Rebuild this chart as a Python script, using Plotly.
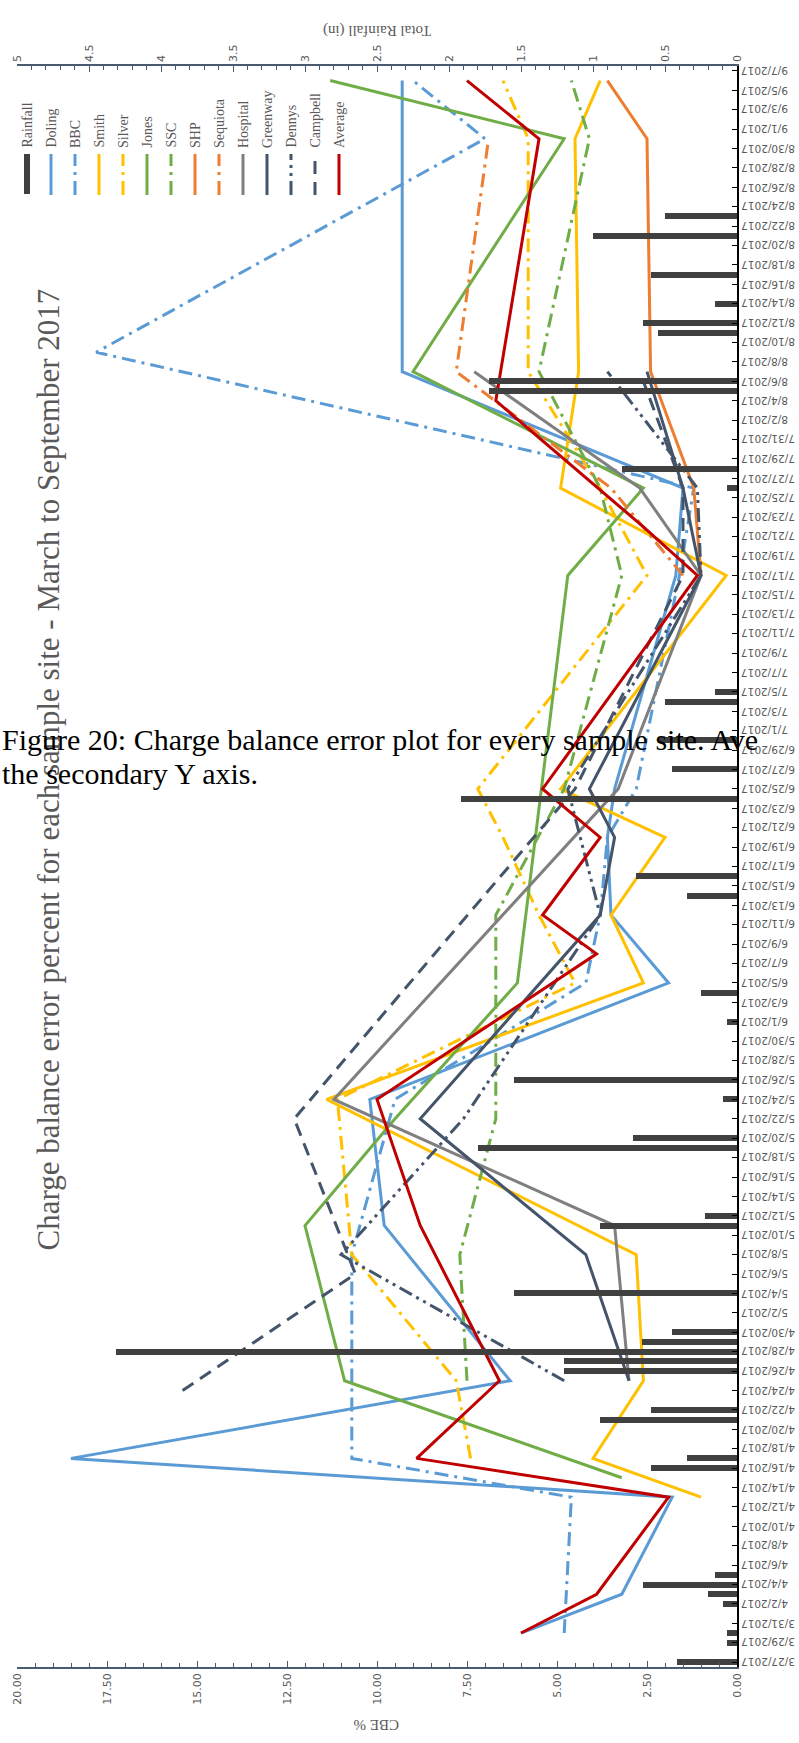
import datetime as dt
import plotly.graph_objects as go

# ---- data -------------------------------------------------------------
rain_dates = ["2017-03-27", "2017-03-29", "2017-03-30", "2017-04-02", "2017-04-03",
              "2017-04-04", "2017-04-05", "2017-04-16", "2017-04-17", "2017-04-21",
              "2017-04-22", "2017-04-26", "2017-04-27", "2017-04-28", "2017-04-29",
              "2017-04-30", "2017-05-04", "2017-05-11", "2017-05-12", "2017-05-19",
              "2017-05-20", "2017-05-24", "2017-05-26", "2017-06-01", "2017-06-04",
              "2017-06-14", "2017-06-16", "2017-06-24", "2017-06-27", "2017-06-30",
              "2017-07-04", "2017-07-05", "2017-07-26", "2017-07-28", "2017-08-05",
              "2017-08-06", "2017-08-11", "2017-08-12", "2017-08-14", "2017-08-17",
              "2017-08-21", "2017-08-23"]
rain_in = [0.42, 0.07, 0.07, 0.10, 0.20,
           0.65, 0.15, 0.60, 0.35, 0.95,
           0.60, 1.20, 1.20, 4.31, 0.66,
           0.45, 1.55, 0.95, 0.22, 1.80,
           0.72, 0.10, 1.55, 0.07, 0.25,
           0.35, 0.70, 1.92, 0.45, 0.55,
           0.50, 0.15, 0.07, 0.80, 1.72,
           1.72, 0.55, 0.65, 0.15, 0.60,
           1.00, 0.50]

doling_d = ["2017-03-30", "2017-04-03", "2017-04-13", "2017-04-17", "2017-04-25", "2017-05-11",
            "2017-05-24", "2017-06-05", "2017-06-12", "2017-06-20", "2017-06-25", "2017-07-17",
            "2017-07-26", "2017-08-07", "2017-08-31", "2017-09-06"]
doling = [6.0, 3.2, 1.8, 18.5, 6.3, 9.8, 10.2, 1.9, 3.5, 3.6, 3.4, 1.7, 1.5, 9.3, 9.3, 9.3]

bbc_d = ["2017-03-30", "2017-04-13", "2017-04-17", "2017-05-08", "2017-05-24", "2017-06-05",
         "2017-06-12", "2017-06-20", "2017-06-25", "2017-07-17", "2017-07-26", "2017-08-09",
         "2017-08-31", "2017-09-06"]
bbc = [4.8, 4.6, 10.7, 10.7, 9.5, 4.2, 3.8, 3.6, 2.8, 1.6, 1.2, 17.8, 7.0, 9.0]

smith_d = ["2017-04-13", "2017-04-17", "2017-04-25", "2017-05-08", "2017-05-24", "2017-06-05",
           "2017-06-12", "2017-06-20", "2017-06-25", "2017-07-17", "2017-07-26", "2017-08-07",
           "2017-08-31", "2017-09-06"]
smith = [1.0, 4.0, 2.6, 2.8, 11.4, 2.6, 3.5, 2.0, 4.9, 0.3, 4.9, 4.4, 4.5, 3.8]

silver_d = ["2017-04-17", "2017-04-25", "2017-05-08", "2017-05-24", "2017-06-05", "2017-06-12",
            "2017-06-20", "2017-06-25", "2017-07-17", "2017-07-26", "2017-08-07", "2017-08-31",
            "2017-09-06"]
silver = [7.4, 7.8, 10.7, 11.1, 4.5, 5.5, 6.5, 7.2, 2.5, 3.8, 5.8, 5.8, 6.5]

jones_d = ["2017-04-15", "2017-04-25", "2017-05-11", "2017-05-22", "2017-06-05", "2017-07-17",
           "2017-07-26", "2017-08-07", "2017-08-31", "2017-09-06"]
jones = [3.2, 10.9, 12.0, 9.5, 6.1, 4.7, 2.6, 9.0, 4.8, 11.3]

ssc_d = ["2017-04-25", "2017-05-08", "2017-05-22", "2017-06-12", "2017-06-25", "2017-07-17",
         "2017-07-26", "2017-08-07", "2017-08-31", "2017-09-06"]
ssc = [7.5, 7.7, 6.7, 6.7, 4.8, 3.2, 3.8, 5.5, 4.1, 4.6]

shp_d = ["2017-07-17", "2017-07-26", "2017-08-07", "2017-08-31", "2017-09-06"]
shp = [1.0, 1.2, 2.4, 2.5, 3.6]

sequiota_d = ["2017-07-17", "2017-07-26", "2017-08-07", "2017-08-31"]
sequiota = [1.5, 3.5, 7.8, 6.9]

hospital_d = ["2017-04-25", "2017-05-11", "2017-05-24", "2017-06-25", "2017-07-17",
              "2017-07-26", "2017-08-07"]
hospital = [3.0, 3.4, 11.2, 3.3, 1.0, 2.7, 7.3]

greenway_d = ["2017-04-25", "2017-05-08", "2017-05-22", "2017-06-12", "2017-06-20",
              "2017-06-25", "2017-07-17", "2017-07-26", "2017-08-07"]
greenway = [3.0, 4.2, 8.8, 3.8, 3.4, 4.1, 1.0, 1.5, 2.5]

dennys_d = ["2017-04-25", "2017-05-08", "2017-05-22", "2017-06-12", "2017-06-25",
            "2017-07-17", "2017-07-26", "2017-08-07"]
dennys = [4.8, 11.0, 7.6, 3.8, 4.7, 1.0, 1.1, 3.6]

campbell_d = ["2017-04-24", "2017-05-06", "2017-05-22", "2017-06-25", "2017-07-17",
              "2017-07-26", "2017-08-07"]
campbell = [15.4, 10.6, 12.3, 4.5, 1.5, 1.5, 2.7]

average_d = ["2017-03-30", "2017-04-03", "2017-04-13", "2017-04-17", "2017-04-25", "2017-05-11",
             "2017-05-24", "2017-06-08", "2017-06-12", "2017-06-20", "2017-06-25", "2017-07-17",
             "2017-07-22", "2017-08-04", "2017-08-31", "2017-09-06"]
average = [6.0, 3.9, 1.9, 8.9, 6.6, 8.8, 10.0, 3.9, 5.4, 3.8, 5.4, 1.1, 2.6, 6.7, 5.5, 7.5]

DASHDOT = "14px,6px,3px,6px"
series = [
    ("Doling",   doling_d,   doling,   "#5B9BD5", "solid"),
    ("BBC",      bbc_d,      bbc,      "#5B9BD5", DASHDOT),
    ("Smith",    smith_d,    smith,    "#FFC000", "solid"),
    ("Silver",   silver_d,   silver,   "#FFC000", DASHDOT),
    ("Jones",    jones_d,    jones,    "#70AD47", "solid"),
    ("SSC",      ssc_d,      ssc,      "#70AD47", DASHDOT),
    ("SHP",      shp_d,      shp,      "#ED7D31", "solid"),
    ("Sequiota", sequiota_d, sequiota, "#ED7D31", DASHDOT),
    ("Hospital", hospital_d, hospital, "#7F7F7F", "solid"),
    ("Greenway", greenway_d, greenway, "#44546A", "solid"),
    ("Dennys",   dennys_d,   dennys,   "#44546A", "14px,5px,3px,5px,3px,5px"),
    ("Campbell", campbell_d, campbell, "#44546A", "13px,8px"),
    ("Average",  average_d,  average,  "#C00000", "solid"),
]

# ---- geometry (pixels) -----------------------------------------------
W, H = 799, 1743
L, R, T, B = 17, 737, 66, 1667


def px(x):
    return (x - L) / (R - L)


def py(y):
    return (B - y) / (B - T)


GREY = "#595959"
AXIS = "#4A5A70"

fig = go.Figure()

fig.add_trace(go.Bar(
    x=rain_in, y=rain_dates, orientation="h", xaxis="x2", yaxis="y",
    marker=dict(color="#404040", line=dict(width=0)),
    width=0.62 * 86400000, name="Rainfall", showlegend=False,
))

for name, ds, vals, color, dash in series:
    fig.add_trace(go.Scatter(
        x=vals, y=ds, mode="lines", name=name, showlegend=False,
        line=dict(color=color, width=3, dash=dash),
    ))

# date ticks every two days
start = dt.date(2017, 3, 27)
tick_days = [start + dt.timedelta(days=2 * i) for i in range(83)]
tick_vals = [d.isoformat() for d in tick_days]
tick_text = [f"{d.month}/{d.day}/{d.year}" for d in tick_days]

cbe_ticks = [i * 2.5 for i in range(9)]
rain_ticks = [i * 0.5 for i in range(11)]

fig.update_layout(
    width=W, height=H,
    margin=dict(l=L, r=W - R, t=T, b=H - B),
    paper_bgcolor="white", plot_bgcolor="white",
    bargap=0,
    yaxis=dict(
        type="date", range=["2017-03-26 12:00", "2017-09-07 12:00"],
        side="right", tickmode="array", tickvals=tick_vals, showticklabels=False,
        showline=True, linecolor="#000000", linewidth=1.5, mirror=False,
        ticks="inside", ticklen=5, tickcolor="#000000",
        showgrid=False, zeroline=False,
    ),
    xaxis=dict(
        range=[20, 0], side="bottom", tickmode="array", tickvals=cbe_ticks,
        ticktext=[f"{v:.2f}" for v in cbe_ticks], tickangle=-90,
        tickfont=dict(family="DejaVu Sans", size=11, color=GREY),
        showline=True, linecolor=AXIS, linewidth=1.5,
        ticks="inside", ticklen=6, tickcolor=AXIS,
        minor=dict(dtick=0.5, ticks="inside", ticklen=4, tickcolor=AXIS),
        showgrid=False, zeroline=False,
    ),
    xaxis2=dict(
        range=[5, 0], side="top", overlaying="x", tickmode="array",
        tickvals=rain_ticks, ticktext=[f"{v:g}" for v in rain_ticks], tickangle=-90,
        tickfont=dict(family="DejaVu Sans", size=11, color=GREY),
        showline=True, linecolor=AXIS, linewidth=1.5,
        ticks="inside", ticklen=6, tickcolor=AXIS,
        minor=dict(dtick=0.1, ticks="inside", ticklen=4, tickcolor=AXIS),
        showgrid=False, zeroline=False,
    ),
    showlegend=False,
)

ann = []
# upside-down date labels along the right-hand axis
for v, t in zip(tick_vals, tick_text):
    ann.append(dict(text=t, x=px(740), y=v, xref="paper", yref="y",
                    textangle=180, xanchor="left", yanchor="middle", borderpad=0,
                    font=dict(family="DejaVu Sans", size=10.5, color=GREY)))

# axis titles
ann.append(dict(text="CBE %", x=px(377), y=py(1735), textangle=180,
                font=dict(family="Liberation Serif", size=15, color=GREY)))
ann.append(dict(text="Total Rainfall (in)", x=px(377), y=py(20), textangle=180,
                font=dict(family="Liberation Serif", size=15, color=GREY)))
# chart title
ann.append(dict(text="Charge balance error percent for each sample site - March to September 2017",
                x=px(28), y=py(770), textangle=-90,
                font=dict(family="Liberation Serif", size=31, color=GREY)))

# legend drawn as vertical swatches with rotated labels
legend_items = [("Rainfall", "#404040", "bar")] + [(s[0], s[3], s[4]) for s in series]
shapes = []
for i, (name, color, dash) in enumerate(legend_items):
    cx = 27 + 24 * i
    if dash == "bar":
        shapes.append(dict(type="rect", xref="paper", yref="paper",
                           x0=px(cx - 3), x1=px(cx + 3), y0=py(194), y1=py(154),
                           fillcolor=color, line=dict(width=0)))
    else:
        shapes.append(dict(type="line", xref="paper", yref="paper",
                           x0=px(cx), x1=px(cx), y0=py(195), y1=py(154),
                           line=dict(color=color, width=3, dash=dash)))
    ann.append(dict(text=name, x=px(cx), y=py(150), textangle=-90,
                    xanchor="center", yanchor="bottom",
                    font=dict(family="Liberation Serif", size=14, color=GREY)))

# caption text running across the page
ann.append(dict(text="Figure 20: Charge balance error plot for every sample site. Ave",
                x=px(0), y=py(739), xanchor="left", yanchor="middle",
                font=dict(family="Liberation Serif", size=30, color="#000000")))
ann.append(dict(text="the secondary Y axis.",
                x=px(0), y=py(773), xanchor="left", yanchor="middle",
                font=dict(family="Liberation Serif", size=30, color="#000000")))

for a in ann:
    a.setdefault("xref", "paper")
    a.setdefault("yref", "paper")
    a.setdefault("showarrow", False)

fig.update_layout(annotations=ann, shapes=shapes)
fig.write_html("out.html")
